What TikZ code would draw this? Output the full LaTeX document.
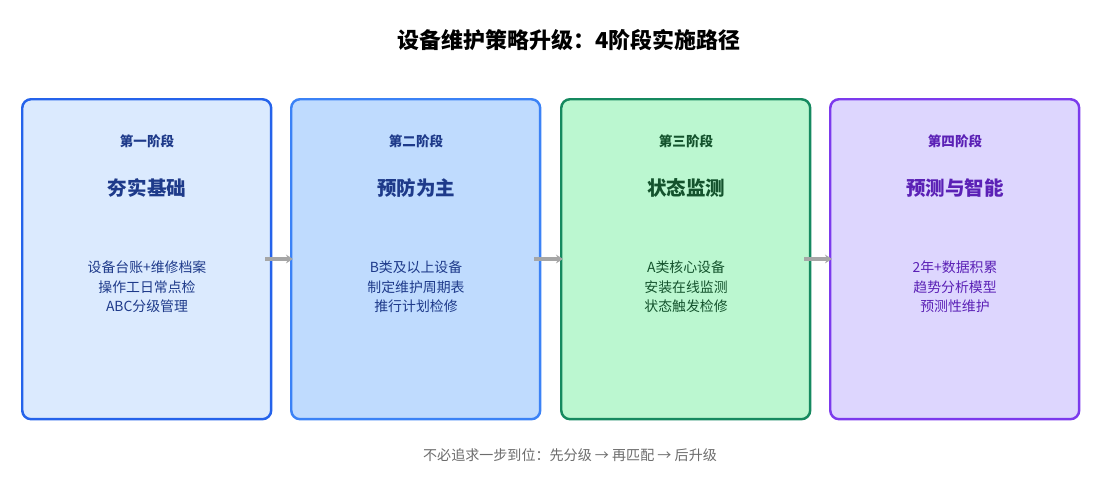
\documentclass[tikz,border=0pt]{standalone}
\usepackage{fontspec}
\usepackage{tikz}
\usetikzlibrary{arrows.meta,positioning}
\newfontfamily\cjk{Noto Sans CJK SC}
\definecolor{fillA}{HTML}{DBEAFE}\definecolor{lineA}{HTML}{2563EB}\definecolor{textA}{HTML}{1E3A8A}
\definecolor{fillB}{HTML}{BFDBFE}\definecolor{lineB}{HTML}{3B82F6}\definecolor{textB}{HTML}{1E3A8A}
\definecolor{fillC}{HTML}{BBF7D0}\definecolor{lineC}{HTML}{15895F}\definecolor{textC}{HTML}{14532D}
\definecolor{fillD}{HTML}{DDD6FE}\definecolor{lineD}{HTML}{7C3AED}\definecolor{textD}{HTML}{5B21B6}
\tikzset{
  stage/.style={draw=line#1, fill=fill#1, line width=1.4pt, rounded corners=5pt,
    minimum width=4.98cm, minimum height=6.40cm, anchor=north west},
  step/.style={font=\cjk\fontsize{7.7}{9}\selectfont\bfseries, text=text#1},
  head/.style={font=\cjk\fontsize{11.1}{13}\selectfont\bfseries, text=text#1},
  item/.style={font=\cjk\fontsize{7.9}{11.2}\selectfont, text=text#1, align=center},
  link/.style={-{Stealth[length=4pt,width=5pt]}, line width=1.8pt, gray!70}
}
\begin{document}
\begin{tikzpicture}[x=0.02cm, y=-0.02cm]
\useasboundingbox (0,0) rectangle (1104,484);

% title
\node[font=\cjk\fontsize{12.5}{14}\selectfont\bfseries] (title) at (569,40) {设备维护策略升级：4阶段实施路径};

% stages
\foreach \k/\x/\s/\h/\a/\b/\c in {
  A/21/第一阶段/夯实基础/设备台账+维修档案/操作工日常点检/ABC分级管理,
  B/290/第二阶段/预防为主/B类及以上设备/制定维护周期表/推行计划检修,
  C/560/第三阶段/状态监测/A类核心设备/安装在线监测/状态触发检修,
  D/829/第四阶段/预测与智能/2年+数据积累/趋势分析模型/预测性维护} {
  \node[stage=\k] (box\k) at (\x,98) {};
  \node[step=\k] (step\k) at (\x+126,141) {\s};
  \node[head=\k] (head\k) at (\x+126,188) {\h};
  \node[item=\k] (item\k) at (\x+126,287) {\a\\\b\\\c};
}

% connectors
\draw[link] ([yshift=-3.22cm,xshift=-0.14cm]boxA.north east) -- ([yshift=-3.22cm,xshift=0.06cm]boxB.north west);
\draw[link] ([yshift=-3.22cm,xshift=-0.14cm]boxB.north east) -- ([yshift=-3.22cm,xshift=0.06cm]boxC.north west);
\draw[link] ([yshift=-3.22cm,xshift=-0.14cm]boxC.north east) -- ([yshift=-3.22cm,xshift=0.06cm]boxD.north west);

% footer
\node[font=\cjk\fontsize{8}{9}\selectfont, text=gray!85!black] (note) at (570,455) {不必追求一步到位：先分级 → 再匹配 → 后升级};
\end{tikzpicture}
\end{document}
